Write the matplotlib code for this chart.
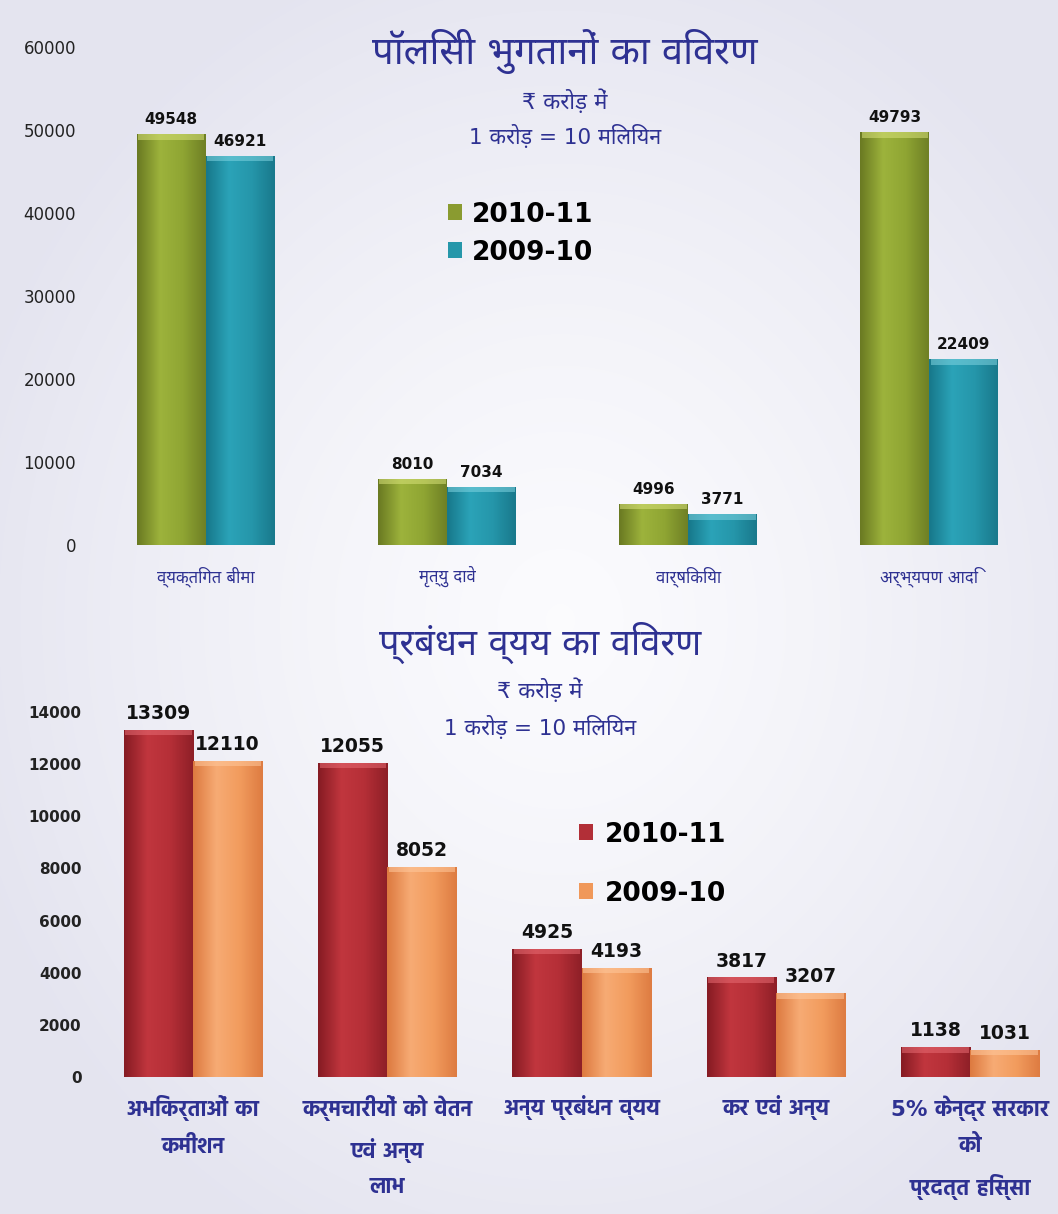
import numpy as np
import matplotlib
matplotlib.use("Agg")
import matplotlib.pyplot as plt
from matplotlib import font_manager as fm
from matplotlib.colors import LinearSegmentedColormap

# ---------------- data ----------------
top_title = "पॉलिसी भुगतानों का विवरण"
sub1 = "₹ करोड़ में"
sub2 = "1 करोड़ = 10 मिलियन"
top_categories = ["व्यक्तिगत बीमा", "मृत्यु दावे", "वार्षिकिया", "अर्भ्यपण आदि"]
top_2010_11 = [49548, 8010, 4996, 49793]
top_2009_10 = [46921, 7034, 3771, 22409]
top_yticks = [0, 10000, 20000, 30000, 40000, 50000, 60000]

bot_title = "प्रबंधन व्यय का विवरण"
bot_categories = ["अभिकर्ताओं का\nकमीशन", "कर्मचारीयों को वेतन\nएवं अन्य\nलाभ",
                  "अन्य प्रबंधन व्यय", "कर एवं अन्य", "5% केन्द्र सरकार\nको\nप्रदत्त हिस्सा"]
bot_2010_11 = [13309, 12055, 4925, 3817, 1138]
bot_2009_10 = [12110, 8052, 4193, 3207, 1031]
bot_yticks = [0, 2000, 4000, 6000, 8000, 10000, 12000, 14000]
series_labels = ["2010-11", "2009-10"]

# ---------------- fonts ----------------
installed = {f.name for f in fm.fontManager.ttflist}
deva = next((n for n in ["Noto Sans Devanagari", "Hind", "Mukta", "Ek Mukta",
                         "IBM Plex Sans Devanagari", "FreeSans"] if n in installed), None)
deva_bold = next((n for n in ["Hind", "Ek Mukta", "IBM Plex Sans Devanagari", "Biryani",
                              "FreeSans"] if n in installed), deva)
FAM = ["DejaVu Sans"] + ([deva] if deva else [])
FAM_B = ["DejaVu Sans"] + ([deva_bold] if deva_bold else [])
plt.rcParams["font.family"] = FAM

W, H = 1058, 1214
fig = plt.figure(figsize=(W / 100, H / 100), dpi=100)

# background radial gradient
bg = fig.add_axes([0, 0, 1, 1], zorder=-10)
yy, xx = np.mgrid[0:H, 0:W]
r = np.sqrt(((xx - 560) / 620.0) ** 2 + ((yy - 620) / 700.0) ** 2)
t = np.clip(r, 0, 1) ** 1.3
c0 = np.array([0.985, 0.985, 0.995])
c1 = np.array([0.895, 0.895, 0.94])
img = c0[None, None, :] * (1 - t[..., None]) + c1[None, None, :] * t[..., None]
bg.imshow(img, extent=[0, W, H, 0], aspect="auto")
bg.set_xlim(0, W); bg.set_ylim(H, 0)
bg.axis("off")

BLUE = "#2e3192"


def fx(px):
    return px / W


def fy(py):
    return 1 - py / H


def shade(ax, bars, cols, hl, hl_h):
    cmap = LinearSegmentedColormap.from_list("g", cols)
    grad = np.linspace(0, 1, 64)[None, :]
    for b in bars:
        x0, y0 = b.get_x(), b.get_y()
        w, h = b.get_width(), b.get_height()
        im = ax.imshow(grad, cmap=cmap, extent=[x0, x0 + w, y0, y0 + h],
                       aspect="auto", zorder=b.get_zorder() + 0.1, interpolation="bicubic")
        im.set_clip_path(b)
        # top bevel highlight
        ax.bar(x0 + w / 2, hl_h, bottom=y0 + h - hl_h, width=w * 0.96,
               color=hl, alpha=0.55, zorder=b.get_zorder() + 0.2, edgecolor="none")


def make_chart(ax, cats, s1, s2, width, c1, c2, g1, g2, h1, h2, hl_h, yticks, ylim,
               tickfont, valfont, xfont, xpad, ypad):
    x = np.arange(len(cats))
    b1 = ax.bar(x - width / 2, s1, width, color=c1, zorder=3, edgecolor="none")
    b2 = ax.bar(x + width / 2, s2, width, color=c2, zorder=3, edgecolor="none")
    shade(ax, b1, g1, h1, hl_h)
    shade(ax, b2, g2, h2, hl_h)
    ax.set_ylim(*ylim)
    ax.set_yticks(yticks)
    ax.set_yticklabels([str(v) for v in yticks], **tickfont)
    ax.set_xticks(x)
    ax.set_xticklabels(cats, **xfont)
    ax.tick_params(axis="both", length=0)
    ax.tick_params(axis="x", pad=xpad)
    ax.tick_params(axis="y", pad=ypad)
    for s in ax.spines.values():
        s.set_visible(False)
    ax.patch.set_alpha(0)
    for bars, vals in ((b1, s1), (b2, s2)):
        for b, v in zip(bars, vals):
            ax.annotate(str(v), (b.get_x() + b.get_width() / 2, v), xytext=(0, 5),
                        textcoords="offset points", ha="center", va="bottom",
                        zorder=5, **valfont)
    return b1, b2


# ---------------- top chart ----------------
ax1 = fig.add_axes([fx(90), fy(545), fx(955), 498 / H])
t1, t2 = make_chart(
    ax1, top_categories, top_2010_11, top_2009_10, 0.286,
    "#8a9b30", "#2597aa",
    ["#6a7a22", "#9db33c", "#8fa533", "#6f8025"],
    ["#17788b", "#2ba3b8", "#2596aa", "#19798c"],
    "#d8e27a", "#7fd3e0", 700,
    top_yticks, (0, 60000),
    dict(fontsize=12, color="#222222"),
    dict(fontsize=11, fontweight="bold", color="#111111"),
    dict(fontsize=12, color=BLUE),
    15, 10)
ax1.set_xlim(-0.48, 3.48)

fig.text(fx(565), fy(52), top_title, ha="center", va="center", fontsize=27.5, color=BLUE)
fig.text(fx(565), fy(101), sub1, ha="center", va="center", fontsize=16, color=BLUE)
fig.text(fx(565), fy(136), sub2, ha="center", va="center", fontsize=15.5, color=BLUE)

leg1 = fig.legend([t1, t2], series_labels, loc="upper left",
                  bbox_to_anchor=(fx(424), fy(178)), bbox_transform=fig.transFigure,
                  frameon=False, handlelength=0.55, handleheight=0.55, handletextpad=0.35,
                  labelspacing=0.45, prop=dict(family="DejaVu Sans", weight="bold", size=19))

# ---------------- bottom chart ----------------
ax2 = fig.add_axes([fx(90), fy(1077), fx(960), 365 / H])
r1, r2 = make_chart(
    ax2, bot_categories, bot_2010_11, bot_2009_10, 0.356,
    "#b22f37", "#f0985a",
    ["#861b23", "#c1363e", "#b52f37", "#8e1f27"],
    ["#dd7a40", "#f7ab74", "#f29c5e", "#de7c42"],
    "#e66a72", "#ffc89c", 200,
    bot_yticks, (0, 14000),
    dict(fontsize=11, fontweight="bold", color="#222222"),
    dict(fontsize=13.5, fontweight="bold", color="#111111"),
    dict(fontsize=15.5, fontweight="bold", color=BLUE, linespacing=1.85, family=FAM_B),
    13, 6)
ax2.set_xlim(-0.531, 4.412)

fig.text(fx(540), fy(643), bot_title, ha="center", va="center", fontsize=26, color=BLUE)
fig.text(fx(540), fy(690), sub1, ha="center", va="center", fontsize=16, color=BLUE)
fig.text(fx(540), fy(727), sub2, ha="center", va="center", fontsize=15.5, color=BLUE)

leg2 = fig.legend([r1, r2], series_labels, loc="upper left",
                  bbox_to_anchor=(fx(555), fy(798)), bbox_transform=fig.transFigure,
                  frameon=False, handlelength=0.55, handleheight=0.55, handletextpad=0.45,
                  labelspacing=1.25, prop=dict(family="DejaVu Sans", weight="bold", size=19))

fig.savefig("out.png", dpi=100)
